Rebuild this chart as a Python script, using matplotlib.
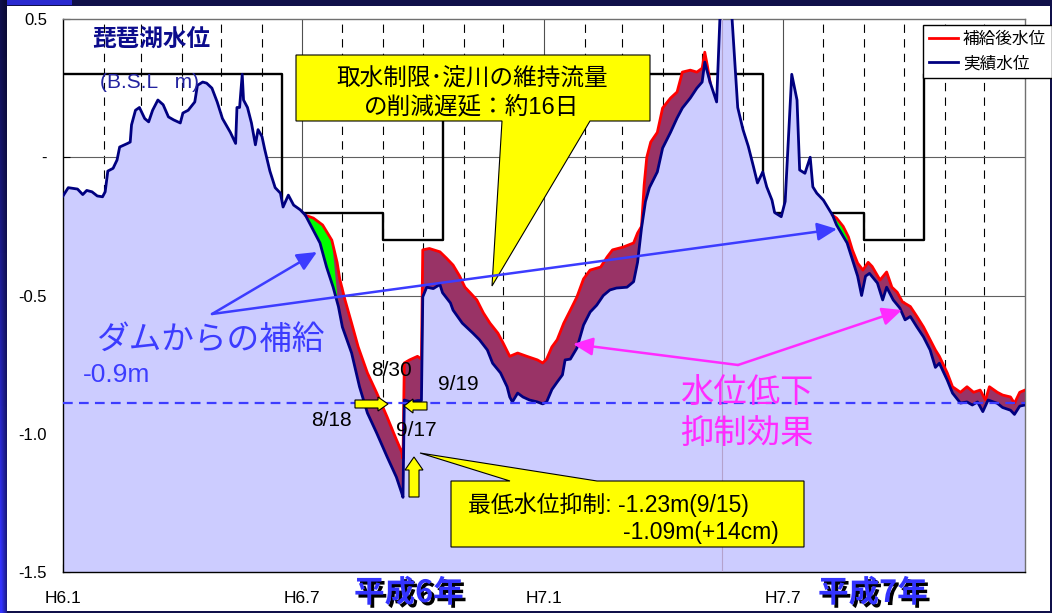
import numpy as np
import matplotlib
matplotlib.use("Agg")
import matplotlib.pyplot as plt
from matplotlib.patches import Polygon, Rectangle
from matplotlib.lines import Line2D
import matplotlib.patheffects as pe
from matplotlib import font_manager
from matplotlib.font_manager import FontProperties

# ---------------- data (days since 1994-01-01, level in B.S.L. m) ----------------
NAVY_DAYS = [0, 4, 11, 15, 18, 22, 26, 30, 32, 34, 38, 41, 43, 49, 51, 52, 55, 58, 62, 65,
             68, 72, 76, 80, 84, 89, 91, 95, 100, 102, 106, 109, 113, 117, 121, 127, 131, 132,
             134, 136, 137, 140, 143, 146, 148, 151, 153, 157, 161, 165, 167, 171, 175, 180,
             184, 195, 200, 205, 209, 212, 219, 225, 231, 238, 246, 253, 257, 258, 259, 264,
             269, 272, 273, 276, 281, 286, 288, 294, 296, 303, 307, 311, 316, 322, 326, 332,
             337, 339, 341, 345, 349, 354, 360, 364, 367, 371, 375, 379, 381, 385, 390, 395,
             400, 405, 410, 415, 420, 428, 433, 436, 439, 442, 445, 451, 455, 461, 466, 470,
             476, 481, 485, 487, 491, 496, 502, 510, 512, 516, 520, 524, 527, 531, 534, 538,
             540, 545, 548, 553, 557, 559, 563, 567, 569, 572, 577, 584, 587, 595, 599, 603,
             606, 609, 612, 618, 622, 625, 630, 635, 639, 643, 648, 653, 658, 662, 665, 671,
             675, 681, 686, 690, 694, 698, 702, 709, 713, 719, 722, 726, 730]
NAVY_LEVEL = [-0.14, -0.11, -0.115, -0.135, -0.12, -0.125, -0.14, -0.143, -0.125, -0.05, -0.04,
              -0.01, 0.037, 0.05, 0.055, 0.117, 0.17, 0.18, 0.14, 0.128, 0.17, 0.207, 0.19,
              0.146, 0.135, 0.124, 0.16, 0.17, 0.2, 0.26, 0.272, 0.268, 0.25, 0.2, 0.14, 0.09,
              0.05, 0.18, 0.18, 0.30, 0.207, 0.18, 0.124, 0.045, 0.1, 0.075, 0.03, -0.05, -0.11,
              -0.13, -0.18, -0.137, -0.173, -0.19, -0.21, -0.31, -0.397, -0.47, -0.54, -0.614,
              -0.708, -0.83, -0.925, -0.997, -1.084, -1.157, -1.214, -1.23, -0.878, -0.885,
              -0.88, -0.88, -0.505, -0.47, -0.475, -0.46, -0.49, -0.527, -0.553, -0.6, -0.618,
              -0.636, -0.66, -0.697, -0.745, -0.78, -0.83, -0.867, -0.885, -0.853, -0.867,
              -0.878, -0.885, -0.892, -0.885, -0.84, -0.813, -0.787, -0.733, -0.73, -0.69,
              -0.607, -0.56, -0.535, -0.5, -0.48, -0.473, -0.47, -0.45, -0.38, -0.256, -0.16,
              -0.11, -0.053, 0.033, 0.09, 0.142, 0.178, 0.214, 0.25, 0.272, 0.344, 0.272, 0.2,
              0.93, 0.327, 0.18, 0.1, 0.04, -0.035, -0.093, -0.053, -0.107, -0.155, -0.2,
              -0.215, -0.16, 0.3, 0.207, -0.046, -0.058, 0.0, -0.107, -0.13, -0.155, -0.21,
              -0.245, -0.31, -0.37, -0.43, -0.5, -0.43, -0.42, -0.455, -0.516, -0.47, -0.516,
              -0.545, -0.588, -0.576, -0.614, -0.65, -0.697, -0.76, -0.745, -0.806, -0.853,
              -0.889, -0.885, -0.896, -0.885, -0.92, -0.878, -0.89, -0.905, -0.915, -0.93,
              -0.9, -0.896]

RED1_DAYS = [184, 190, 197, 204, 208, 210, 214, 219, 224, 231, 238, 246, 252, 257, 258, 259,
             263, 269, 272, 273, 278, 286, 291, 296, 301, 305, 309, 314, 319, 324, 330, 334,
             339, 345, 352, 360, 364, 367, 371, 375, 380, 385, 390, 395, 400, 408, 413, 417,
             425, 433, 436, 439, 441, 443, 446, 451, 455, 461, 466, 470, 476, 481, 485, 487,
             489, 491]
RED1_LEVEL = [-0.21, -0.22, -0.245, -0.30, -0.38, -0.44, -0.516, -0.60, -0.686, -0.78, -0.852,
              -0.94, -1.01, -1.066, -1.09, -0.744, -0.733, -0.72, -0.73, -0.335, -0.33, -0.342,
              -0.365, -0.39, -0.43, -0.47, -0.49, -0.516, -0.563, -0.60, -0.636, -0.672, -0.72,
              -0.708, -0.72, -0.733, -0.744, -0.73, -0.686, -0.66, -0.60, -0.553, -0.505,
              -0.44, -0.408, -0.397, -0.36, -0.335, -0.325, -0.31, -0.274, -0.25, -0.10, 0.0,
              0.055, 0.09, 0.178, 0.214, 0.236, 0.308, 0.315, 0.308, 0.322, 0.38, 0.33, 0.272]

RED2_DAYS = [584, 587, 592, 596, 599, 603, 607, 611, 614, 620, 625, 629, 633, 637, 643, 648,
             653, 658, 662, 665, 671, 675, 681, 686, 691, 696, 700, 703, 709, 713, 719, 722,
             726, 730]
RED2_LEVEL = [-0.21, -0.22, -0.25, -0.288, -0.335, -0.383, -0.408, -0.38, -0.395, -0.444,
              -0.415, -0.47, -0.488, -0.523, -0.54, -0.576, -0.614, -0.66, -0.697, -0.72,
              -0.78, -0.83, -0.85, -0.83, -0.85, -0.842, -0.878, -0.83, -0.85, -0.86, -0.867,
              -0.89, -0.85, -0.842]

# dam-supply (green) periods
GREEN_PERIODS = [(184, 204, 209), (584, 596, 595)]  # (start, red end, actual end)

# seasonal limit level (black step line)
STEP_DAYS = [0, 166, 243, 288, 531, 608, 653, 730]
STEP_LEVEL = [0.3, -0.2, -0.3, 0.3, -0.2, -0.3, 0.3, 0.3]

MONTH_STARTS = [31, 59, 90, 120, 151, 181, 212, 243, 273, 304, 334, 365, 396, 424, 455, 485,
                516, 546, 577, 608, 638, 669, 699]
SOLID_MONTHS = [181, 365, 546]
XTICKS = [0, 181, 365, 546]
XTICK_LABELS = ["H6.1", "H6.7", "H7.1", "H7.7"]
YTICKS = [-1.5, -1.0, -0.5, 0.0, 0.5]
YTICK_LABELS = ["-1.5", "-1.0", "-0.5", "-", "0.5"]
REF_LEVEL = -0.89
MARK_DAY = 500

# ---------------- setup ----------------
plt.rcParams["lines.scale_dashes"] = False
names = {f.name for f in font_manager.fontManager.ttflist}
NARROW = "Liberation Sans Narrow" if "Liberation Sans Narrow" in names else "Liberation Sans"
CJK = "Noto Sans CJK JP"
MIX = ["Liberation Sans", CJK]

W, H = 1052, 613
fig = plt.figure(figsize=(W / 100, H / 100), dpi=100)
fig.patch.set_facecolor("#10104a")


def fx(x):
    return x / W


def fy(y):
    return 1 - y / H


def ff(x, y):
    return (fx(x), fy(y))


def fp(x, y):
    return (x, H - y)


# left gradient strip
strip = fig.add_axes([0, 0, fx(7), 1], zorder=-5)
yy = np.linspace(0, 1, 300)[:, None]
xx = np.linspace(0, 1, 7)[None, :]
t = np.clip((yy ** 1.3) * (1.0 - 0.55 * xx) + 0.12 * (1 - xx), 0, 1)
dark = np.array([0.04, 0.04, 0.20])
blue = np.array([0.20, 0.20, 1.0])
img = dark[None, None, :] + (blue - dark)[None, None, :] * t[:, :, None]
strip.imshow(img, aspect="auto", extent=[0, 1, 0, 1], origin="upper")
strip.axis("off")

fig.add_artist(Rectangle(ff(7, 611), fx(1050) - fx(7), fy(6) - fy(611), transform=fig.transFigure,
                         fc="white", ec="none", zorder=-8))
fig.add_artist(Rectangle(ff(0, 5), fx(72), fy(0) - fy(5), transform=fig.transFigure,
                         fc="#2a2ad0", ec="none", zorder=-8))

ax = fig.add_axes([fx(63), fy(572), fx(1025) - fx(63), fy(19) - fy(572)])
ax.set_facecolor("white")
ax.set_xlim(0, 730)
ax.set_ylim(-1.5, 0.5)

# grid
for d in MONTH_STARTS:
    if d in SOLID_MONTHS:
        ax.axvline(d, color="#505050", lw=0.8, zorder=0.5)
    else:
        ax.axvline(d, color="black", lw=0.8, dashes=(6, 4.5), zorder=0.5)
for lv in (0.0, -0.5):
    ax.axhline(lv, color="#606060", lw=0.8, zorder=0.5)

ax.plot(STEP_DAYS, STEP_LEVEL, drawstyle="steps-post", color="black", lw=1.7, zorder=1)

nd = np.array(NAVY_DAYS, float)
nl = np.array(NAVY_LEVEL, float)
ax.fill_between(nd, nl, -2.0, color="#ccccff", lw=0, zorder=2)

for rd, rl in ((RED1_DAYS, RED1_LEVEL), (RED2_DAYS, RED2_LEVEL)):
    rd = np.array(rd, float)
    rl = np.array(rl, float)
    m = (nd >= rd[0]) & (nd <= rd[-1])
    ax.fill(np.r_[rd, nd[m][::-1]], np.r_[rl, nl[m][::-1]], color="#993366", lw=0, zorder=2.2)
    ax.plot(rd, rl, color="#ff0000", lw=2.0, zorder=3)

for (s, re_, ne) in GREEN_PERIODS:
    rd = np.array(RED1_DAYS + RED2_DAYS, float)
    rl = np.array(RED1_LEVEL + RED2_LEVEL, float)
    mr = (rd >= s) & (rd <= re_)
    mn = (nd >= s) & (nd <= ne)
    ax.fill(np.r_[rd[mr], nd[mn][::-1]], np.r_[rl[mr], nl[mn][::-1]], color="#00ff00", lw=0,
            zorder=2.4)

ax.plot(nd, nl, color="#000080", lw=2.0, zorder=3.2)
ax.axvline(MARK_DAY, color="#b4a2cc", lw=0.8, zorder=3.4)
ax.axhline(REF_LEVEL, color="#3c3cff", lw=1.6, dashes=(7, 4.5), zorder=3.6)

# axes styling
for sp in ("left", "bottom"):
    ax.spines[sp].set_color("black")
    ax.spines[sp].set_linewidth(1.0)
for sp in ("top", "right"):
    ax.spines[sp].set_color("#707070")
    ax.spines[sp].set_linewidth(1.0)
ax.set_yticks(YTICKS)
ax.set_yticklabels(YTICK_LABELS, family=NARROW, fontsize=12)
ax.set_xticks(XTICKS)
ax.set_xticklabels(XTICK_LABELS, family=NARROW, fontsize=12.5)
ax.tick_params(axis="y", direction="in", length=5, width=0.8, pad=11.5)
ax.tick_params(axis="x", direction="in", length=6, width=0.8, pad=14)

# legend
handles = [Line2D([], [], color="#ff0000", lw=2), Line2D([], [], color="#000080", lw=2)]
leg = ax.legend(handles, ["補給後水位", "実績水位"], loc="upper left",
                bbox_to_anchor=ff(923, 25), bbox_transform=fig.transFigure, borderaxespad=0,
                fancybox=False, framealpha=1, edgecolor="black", borderpad=0.35,
                labelspacing=0.45, handlelength=1.75, handletextpad=0.3,
                prop=FontProperties(family=CJK, size=12))
leg.get_frame().set_linewidth(1.0)
leg.set_zorder(10)


def T(x, y, s, **kw):
    kw.setdefault("va", "center")
    return ax.text(fx(x), fy(y), s, transform=fig.transFigure, clip_on=False, **kw)


def poly(pts, **kw):
    p = Polygon([ff(x, y) for x, y in pts], closed=True, transform=fig.transFigure,
                clip_on=False, **kw)
    ax.add_patch(p)
    return p


# titles
T(151, 39, "琵琶湖水位", ha="center", family=CJK, fontsize=17, fontweight="bold", color="#0c0c8c",
  zorder=7)
T(100, 83, "(B.S.L   m)", ha="left", family="Liberation Sans", fontsize=15, color="#2323a0", zorder=7)

# callout 1
poly([(296, 55), (650, 55), (650, 121), (590, 121), (492, 286), (502, 121), (296, 121)],
     fc="#ffff00", ec="black", lw=0.8, zorder=5)
T(472, 79, "取水制限･淀川の維持流量", ha="center", family=[CJK], fontsize=17, color="black", zorder=6)
T(472, 107, "の削減遅延：約16日", ha="center", family=MIX, fontsize=17, color="black", zorder=6)

# callout 2
poly([(451, 481), (510, 481), (420, 453), (597, 481), (804, 481), (804, 547), (451, 547)],
     fc="#ffff00", ec="black", lw=0.8, zorder=5)
T(468, 505, "最低水位抑制: -1.23m(9/15)", ha="left", family=MIX, fontsize=16.5, color="black", zorder=6)
T(779, 533, "-1.09m(+14cm)", ha="right", family=MIX, fontsize=16.5, color="black", zorder=6)

# yellow block arrows
ykw = dict(fc="#ffff00", ec="black", lw=0.8, zorder=6)
poly([(355, 400), (378, 400), (378, 397), (388, 404), (378, 411), (378, 408), (355, 408)], **ykw)
poly([(404, 406), (413, 399), (413, 402), (427, 402), (427, 410), (413, 410), (413, 413)], **ykw)
poly([(414, 457), (423, 470), (419, 470), (419, 497), (409, 497), (409, 470), (405, 470)], **ykw)

# date labels
for s, x, y in (("8/30", 392, 370), ("9/19", 458, 385), ("8/18", 331, 420), ("9/17", 416, 430)):
    T(x, y, s, ha="center", family="Liberation Sans", fontsize=15, color="black", zorder=6)

# blue annotation
BLUE = "#3c3cff"
T(210, 340, "ダムからの補給", ha="center", family=[CJK], fontsize=23.5, color=BLUE, zorder=6)
T(83, 375, "-0.9m", ha="left", family="Liberation Sans", fontsize=19, color=BLUE, zorder=6)
akw = dict(arrowstyle="-|>,head_length=1.2,head_width=0.55", lw=1.8, shrinkA=0, shrinkB=0,
           mutation_scale=10)
for tip in ((317, 252), (837, 229)):
    ax.annotate("", xy=fp(*tip), xycoords="figure pixels", xytext=fp(212, 314),
                textcoords="figure pixels", arrowprops=dict(color=BLUE, **akw), zorder=7,
                annotation_clip=False)

# magenta annotation
MAG = "#ff2bff"
T(680, 393, "水位低下", ha="left", family=[CJK], fontsize=24, color=MAG, zorder=6)
T(680, 433, "抑制効果", ha="left", family=[CJK], fontsize=24, color=MAG, zorder=6)
for tip in ((573, 344), (902, 310)):
    ax.annotate("", xy=fp(*tip), xycoords="figure pixels", xytext=fp(738, 365),
                textcoords="figure pixels", arrowprops=dict(color=MAG, **akw), zorder=7,
                annotation_clip=False)

# era labels
shadow = [pe.withSimplePatchShadow(offset=(2.2, -2.2), shadow_rgbFace="black", alpha=1.0)]
T(354, 593, "平成6年", ha="left", family=[CJK], fontsize=22, fontweight="bold", color="#3333ff",
  path_effects=shadow, zorder=6)
T(818, 593, "平成7年", ha="left", family=[CJK], fontsize=22, fontweight="bold", color="#3333ff",
  path_effects=shadow, zorder=6)

fig.savefig("out.png", dpi=100, facecolor=fig.get_facecolor())
